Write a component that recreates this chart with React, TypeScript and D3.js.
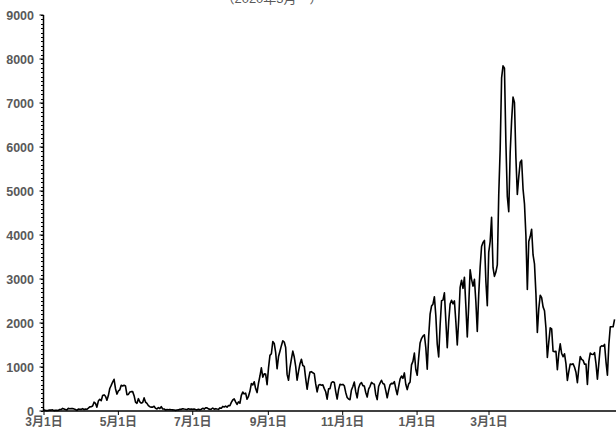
import React from "react";
import * as d3 from "d3";

// Daily new cases, starting 2020-02-22
const feb2020 = [27, 12, 9, 14, 22, 21, 25, 9];
const mar2020 = [14, 18, 13, 34, 33, 59, 47, 33, 26, 59, 52, 54, 55, 45, 35, 15, 44, 39, 36, 53, 35, 43, 39, 65, 93, 97, 112, 200, 173, 87, 225];
const apr2020 = [266, 235, 351, 367, 335, 245, 351, 512, 581, 658, 720, 507, 385, 455, 482, 585, 568, 584, 568, 373, 378, 430, 440, 440, 348, 202, 174, 280, 206, 179];
const may2020 = [194, 298, 203, 174, 122, 98, 88, 87, 108, 60, 48, 76, 55, 99, 45, 46, 23, 31, 30, 36, 28, 25, 22, 14, 21, 25, 38, 38, 52, 44, 38];
const jun2020 = [35, 51, 40, 45, 38, 45, 35, 26, 38, 26, 41, 61, 44, 72, 72, 48, 38, 41, 68, 41, 53, 45, 38, 70, 65, 105, 92, 110, 86, 124];
const jul2020 = [120, 195, 250, 274, 208, 149, 207, 176, 355, 430, 389, 407, 267, 334, 448, 623, 592, 664, 510, 419, 631, 795, 981, 770, 843, 839, 598, 981, 1264, 1301, 1580];
const aug2020 = [1536, 1331, 959, 1237, 1357, 1485, 1595, 1568, 1442, 832, 700, 978, 1177, 1360, 1227, 1014, 700, 902, 1069, 1176, 1034, 1014, 735, 494, 721, 887, 894, 868, 849, 616, 433];
const sep2020 = [586, 601, 587, 594, 509, 438, 268, 505, 508, 645, 665, 648, 441, 272, 486, 609, 597, 604, 573, 422, 309, 271, 256, 478, 558, 657, 440, 299, 525, 614];
const oct2020 = [646, 577, 568, 421, 318, 495, 561, 650, 622, 607, 372, 259, 558, 632, 699, 625, 607, 462, 301, 462, 594, 628, 619, 668, 507, 372, 556, 726, 795, 741, 865];
const nov2020 = [608, 485, 612, 660, 1049, 1129, 1317, 944, 812, 1207, 1547, 1646, 1704, 1733, 1437, 950, 1698, 2201, 2386, 2427, 2596, 2167, 1520, 1228, 1939, 2504, 2520, 2684, 2057, 1436];
const dec2020 = [2029, 2431, 2518, 2436, 2503, 2033, 1501, 2069, 2811, 2973, 2788, 3041, 2394, 1681, 2388, 3211, 2993, 2837, 2993, 2490, 1809, 2646, 3271, 3740, 3832, 3877, 2949, 2395, 3604, 3852, 4400];
const jan2021 = [3258, 3060, 3157, 3322, 4915, 5946, 7570, 7844, 7790, 6097, 4875, 4529, 5867, 6599, 7133, 7011, 5759, 4922, 5320, 5653, 5700, 5044, 4707, 3990, 2760, 3853, 3964, 4131, 3546, 3342, 2673];
const feb2021 = [1785, 2324, 2631, 2576, 2366, 2278, 1892, 1217, 1569, 1890, 1867, 1357, 1350, 1357, 940, 1307, 1527, 1307, 1235, 1300, 1076, 694, 900, 1069, 1056, 1072, 994, 881];
const mar2021 = [645, 974, 1236, 1175, 1150, 1063, 1065, 604, 1128, 1316, 1288, 1284, 1327, 1078, 725, 1087, 1452, 1484, 1474, 1514, 1118, 813, 1510, 1911, 1915, 1915, 2082];

const cases = [
  ...feb2020, ...mar2020, ...apr2020, ...may2020, ...jun2020, ...jul2020, ...aug2020,
  ...sep2020, ...oct2020, ...nov2020, ...dec2020, ...jan2021, ...feb2021, ...mar2021,
];

const yTicks = [0, 1000, 2000, 3000, 4000, 5000, 6000, 7000, 8000, 9000];
const xTickDates = [
  new Date(2020, 2, 1), new Date(2020, 4, 1), new Date(2020, 6, 1), new Date(2020, 8, 1),
  new Date(2020, 10, 1), new Date(2021, 0, 1), new Date(2021, 2, 1),
];
const xTickLabels = ["3月1日", "5月1日", "7月1日", "9月1日", "11月1日", "1月1日", "3月1日"];
const title = "（2020年3月〜）";

const W = 616;
const H = 438;
const left = 43.5;
const bottom = 411;
const top = 15;

export default function App() {
  const y = d3.scaleLinear().domain([0, 9000]).range([bottom, top]);
  const xIdx = d3.scaleLinear().domain([0, 400]).range([44, 616]);
  const xTime = d3.scaleTime().domain([new Date(2020, 2, 1), new Date(2021, 2, 1)]).range([44, 489]);
  const line = d3.line<number>().x((_, i) => xIdx(i)).y((d) => y(d));
  const minor = d3.range(0, 9001, 100);
  const font = "'Liberation Sans', Arial, 'Noto Sans CJK JP', sans-serif";
  return (
    <svg width={W} height={H} style={{ position: "absolute", left: 0, top: 0, background: "#fff" }}>
      <text x={272} y={2.5} textAnchor="middle" fontSize={13} fontFamily={font} fill="#595959">{title}</text>
      <path d={line(cases) || ""} fill="none" stroke="#000" strokeWidth={1.6} strokeLinejoin="round" />
      {minor.map((v) => (
        <line key={"m" + v} x1={left - 2.5} x2={left} y1={Math.round(y(v)) + 0.5} y2={Math.round(y(v)) + 0.5} stroke="#000" strokeWidth={1} />
      ))}
      {yTicks.map((v) => (
        <g key={"y" + v}>
          <line x1={left - 4} x2={left} y1={y(v)} y2={y(v)} stroke="#000" strokeWidth={1} />
          <text x={34} y={y(v)} dy="0.36em" textAnchor="end" fontSize={12.5} fontWeight="bold" fontFamily={font} fill="#595959">{v}</text>
        </g>
      ))}
      <line x1={left} x2={left} y1={top} y2={bottom} stroke="#000" strokeWidth={1.5} />
      <line x1={left} x2={W} y1={bottom} y2={bottom} stroke="#000" strokeWidth={1.5} />
      {xTickDates.map((d, i) => (
        <g key={"x" + i}>
          <line x1={xTime(d)} x2={xTime(d)} y1={bottom} y2={bottom + 4} stroke="#000" strokeWidth={1} />
          <text x={xTime(d)} y={426} textAnchor="middle" fontSize={12} fontWeight="bold" fontFamily={font} fill="#595959">{xTickLabels[i]}</text>
        </g>
      ))}
    </svg>
  );
}
